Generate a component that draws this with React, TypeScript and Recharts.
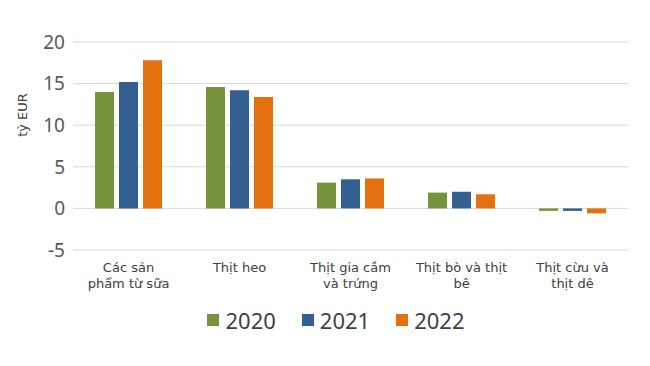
import { BarChart, Bar, XAxis, YAxis, CartesianGrid, Legend } from 'recharts'

const categories = ['Các sản\nphẩm từ sữa', 'Thịt heo', 'Thịt gia cầm\nvà trứng', 'Thịt bò và thịt\nbê', 'Thịt cừu và\nthịt dê']
const v2020 = [14.0, 14.6, 3.1, 1.9, -0.3]
const v2021 = [15.2, 14.2, 3.5, 2.0, -0.3]
const v2022 = [17.8, 13.4, 3.6, 1.7, -0.6]
const yTicks = [-5, 0, 5, 10, 15, 20]

const data = categories.map((c, i) => ({ name: c, '2020': v2020[i], '2021': v2021[i], '2022': v2022[i] }))

const font = '"Noto Sans", sans-serif'
const labelFont = '"DejaVu Sans", sans-serif'

function CatTick({ x, y, payload }: any) {
    const lines = String(payload.value).split('\n')
    return (
        <text x={x} y={y + 14} textAnchor="middle" fontSize={13} fill="#404040" fontFamily={labelFont}>
            {lines.map((l, i) => (
                <tspan key={i} x={x} dy={i === 0 ? 0 : 16}>{l}</tspan>
            ))}
        </text>
    )
}

function AxisTitle() {
    return (
        <text x={22} y={115} transform="rotate(-90 22 115)" textAnchor="middle" dominantBaseline="central" fontSize={13} fill="#404040" fontFamily={labelFont}>
            tỷ EUR
        </text>
    )
}

function LegendContent({ payload }: any) {
    return (
        <div style={{ display: 'flex', justifyContent: 'center', gap: 26, fontFamily: font, fontSize: 22, color: '#404040', paddingLeft: 44, position: 'relative', top: -3 }}>
            {payload.map((p: any) => (
                <div key={p.value} style={{ display: 'flex', alignItems: 'center', gap: 6 }}>
                    <span style={{ width: 12, height: 12, background: p.color, display: 'inline-block' }} />
                    <span>{p.value}</span>
                </div>
            ))}
        </div>
    )
}

export default function App() {
    return (
        <div style={{ position: 'absolute', left: 0, top: 0, width: 650, height: 366, background: '#fff' }}>
            <BarChart width={650} height={366} data={data} margin={{ top: 42, right: 22, bottom: 28, left: 0 }} barGap={5} barSize={19}>
                <CartesianGrid vertical={false} stroke="#d9d9d9" />
                <XAxis dataKey="name" axisLine={false} tickLine={false} tick={<CatTick />} height={58} interval={0} />
                <YAxis
                    width={73}
                    domain={[-5, 20]}
                    ticks={yTicks}
                    axisLine={false}
                    tickLine={false}
                    tick={{ fontSize: 19, fill: '#595959', fontFamily: font }}
                    label={<AxisTitle />}
                />
                <Legend verticalAlign="bottom" content={<LegendContent />} />
                <Bar dataKey="2020" fill="#77933c" isAnimationActive={false} />
                <Bar dataKey="2021" fill="#335f91" isAnimationActive={false} />
                <Bar dataKey="2022" fill="#e5700f" isAnimationActive={false} />
            </BarChart>
        </div>
    )
}
